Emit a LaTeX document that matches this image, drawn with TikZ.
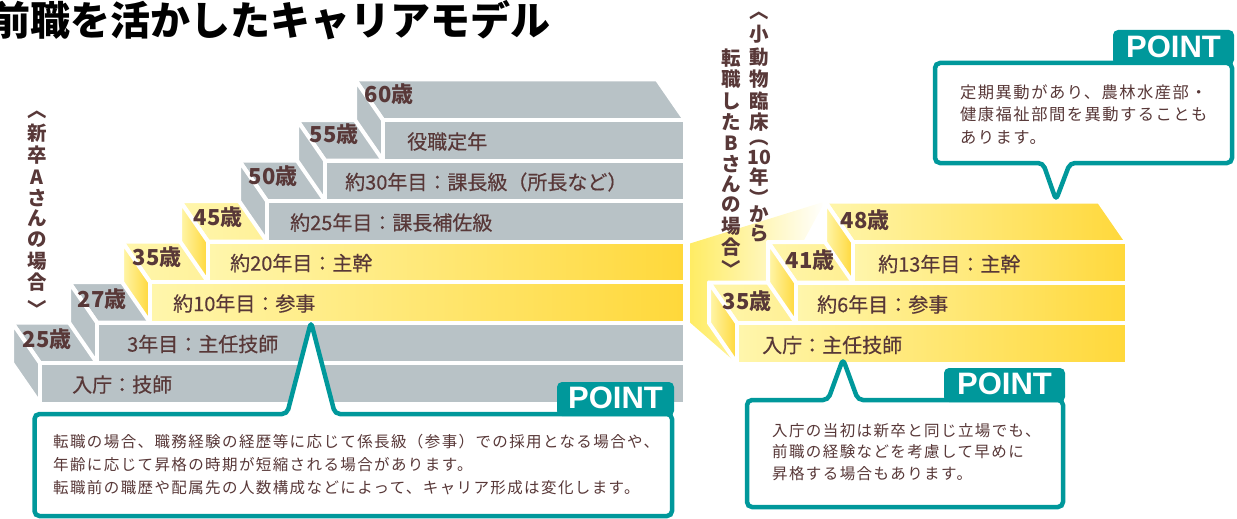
\documentclass[tikz,border=0pt]{standalone}
\usepackage{fontspec}
\setmainfont{Noto Sans CJK JP}
\newfontfamily\labelfont[FakeBold=0.4]{Noto Sans CJK JP} % a little heavier for the step names
\newfontfamily\notefont[LetterSpace=9]{Noto Sans CJK JP} % spaced text in the POINT boxes
\newfontfamily\pointfont{Liberation Sans}

\definecolor{stepgray}{RGB}{184,194,198}
\definecolor{yellowlight}{RGB}{255,246,172}
\definecolor{yellowdeep}{RGB}{255,216,58}
\definecolor{funnelyellow}{RGB}{255,236,100}
\definecolor{textbrown}{RGB}{88,56,56}
\definecolor{pointteal}{RGB}{0,152,155}

\tikzset{
    x=1pt, y=-1pt, % one unit is one pixel, y runs downwards
    face/.style={ % white edges between the faces of a step
        draw=white,
        line width=4pt,
        line join=round
    },
    graystep/.style={face, fill=stepgray},
    yellowstep/.style={face, left color=yellowlight, right color=yellowdeep},
    titlelabel/.style={font=\fontsize{40}{40}\selectfont\bfseries, anchor=west, inner sep=0pt},
    agelabel/.style={font=\fontsize{22}{22}\selectfont\bfseries, text=textbrown, inner sep=0pt},
    steplabel/.style={font=\labelfont\fontsize{20}{20}\selectfont, text=textbrown, anchor=west, inner sep=0pt},
    vertchar/.style={font=\fontsize{19.5}{19.5}\selectfont\bfseries, text=textbrown, inner sep=0pt},
    bubble/.style={draw=pointteal, line width=4.5pt, fill=white, rounded corners=5pt},
    pointtab/.style={fill=pointteal, rounded corners=5pt},
    pointlabel/.style={font=\pointfont\bfseries\fontsize{31}{31}\selectfont, text=white, inner sep=0pt},
    notetext/.style={font=\notefont\fontsize{15.5}{23}\selectfont, text=textbrown, align=left, anchor=west, inner sep=0pt}
}

% one step: #1 left x, #2 top y, #3 right x, #4 face style
\newcommand{\stepblock}[4]{%
    \path[#4] (#1,#2) -- (#3,#2) -- ++(-28,-40.5) -- (#1-28,#2-40.5) -- cycle;
    \path[#4] (#1,#2) -- (#1,#2+40.5) -- (#1-28,#2) -- (#1-28,#2-40.5) -- cycle;
    \path[#4] (#1,#2) rectangle (#3,#2+40.5);
}

\begin{document}
\begin{tikzpicture}
    \useasboundingbox (0,0) rectangle (1237,519);
    \node[titlelabel] (title) at (-10,20) {前職を活かしたキャリアモデル};

    \stepblock{40}{363}{685}{graystep}
    \stepblock{97}{322.5}{685}{graystep}
    \stepblock{150}{282}{685}{yellowstep}
    \stepblock{208}{241.5}{685}{yellowstep}
    \stepblock{267}{201}{685}{graystep}
    \stepblock{325}{160.5}{685}{graystep}
    \stepblock{383}{120}{685}{graystep}

    \node[agelabel] (a25) at (47,339) {25歳};
    \node[agelabel] (a27) at (102,299) {27歳};
    \node[agelabel] (a35) at (157,257) {35歳};
    \node[agelabel] (a45) at (218,217) {45歳};
    \node[agelabel] (a50) at (273,176) {50歳};
    \node[agelabel] (a55) at (334,134) {55歳};
    \node[agelabel] (a60) at (389,94) {60歳};
    \node[steplabel] (s1) at (72,384.5) {入庁：技師};
    \node[steplabel] (s2) at (127,344) {3年目：主任技師};
    \node[steplabel] (s3) at (173,303.5) {約10年目：参事};
    \node[steplabel] (s4) at (230,263) {約20年目：主幹};
    \node[steplabel] (s5) at (290,222.5) {約25年目：課長補佐級};
    \node[steplabel] (s6) at (345,182) {約30年目：課長級（所長など）};
    \node[steplabel] (s7) at (407,141.5) {役職定年};

    \path[left color=funnelyellow, right color=white] (690,243.5) -- (825,201.5) -- (737,363.5) -- (690,322.5) -- cycle;
    \stepblock{737}{323}{1127}{yellowstep}
    \stepblock{796}{282.5}{1127}{yellowstep}
    \stepblock{853}{242}{1127}{yellowstep}

    \node[agelabel] (b35) at (747,301) {35歳};
    \node[agelabel] (b41) at (810,260) {41歳};
    \node[agelabel] (b48) at (865,220) {48歳};
    \node[steplabel] (t1) at (762,345) {入庁：主任技師};
    \node[steplabel] (t2) at (817,304.5) {約6年目：参事};
    \node[steplabel] (t3) at (878,264) {約13年目：主幹};

    \foreach \cy/\ch [count=\i] in {115/︿, 133/新, 155/卒, 177/A, 198/さ, 218/ん, 240/の, 261/場, 282/合, 308/﹀}
        \node[vertchar] (va\i) at (37,\cy) {\ch};
    \foreach \cy/\ch [count=\i] in {16/︿, 34/小, 57/動, 79/物, 101/臨, 122/床, 143/︵, 157/10, 177/年, 197/︶, 214/か, 233/ら}
        \node[vertchar] (vb\i) at (759,\cy) {\ch};
    \foreach \cy/\ch [count=\i] in {58/転, 79/職, 101/し, 122/た, 143/B, 164/さ, 184/ん, 205/の, 226/場, 247/合, 268/﹀}
        \node[vertchar] (vc\i) at (731,\cy) {\ch};

    \draw[bubble] (34.5,414) -- (287,414) -- (311,322) -- (335,414) -- (672,414) -- (672,516) -- (34.5,516) -- cycle;
    \fill[pointtab] (557,416) -- (557,382) -- (674,382) -- (674,416) -- cycle;
    \node[pointlabel] (pa) at (615.5,398) {POINT};
    \node[notetext] (na) at (53,465) {転職の場合、職務経験の経歴等に応じて係長級（参事）での採用となる場合や、\\年齢に応じて昇格の時期が短縮される場合があります。\\転職前の職歴や配属先の人数構成などによって、キャリア形成は変化します。};

    \draw[bubble] (747,400) -- (828,400) -- (843,359) -- (858,400) -- (1063,400) -- (1063,507) -- (747,507) -- cycle;
    \fill[pointtab] (944,402) -- (944,368) -- (1065,368) -- (1065,402) -- cycle;
    \node[pointlabel] (pb) at (1004.5,384) {POINT};
    \node[notetext, font=\notefont\fontsize{15.5}{21.5}\selectfont] (nb) at (772,452) {入庁の当初は新卒と同じ立場でも、\\前職の経験などを考慮して早めに\\昇格する場合もあります。};

    \draw[bubble] (935,63) -- (1232,63) -- (1232,163) -- (1070,163) -- (1056,200) -- (1043,163) -- (935,163) -- cycle;
    \fill[pointtab] (1113,65) -- (1113,30) -- (1234,30) -- (1234,65) -- cycle;
    \node[pointlabel] (pc) at (1173.5,47) {POINT};
    \node[notetext, font=\notefont\fontsize{16.3}{22.5}\selectfont] (nc) at (960,114.5) {定期異動があり、農林水産部・\\健康福祉部間を異動することも\\あります。};
\end{tikzpicture}
\end{document}
